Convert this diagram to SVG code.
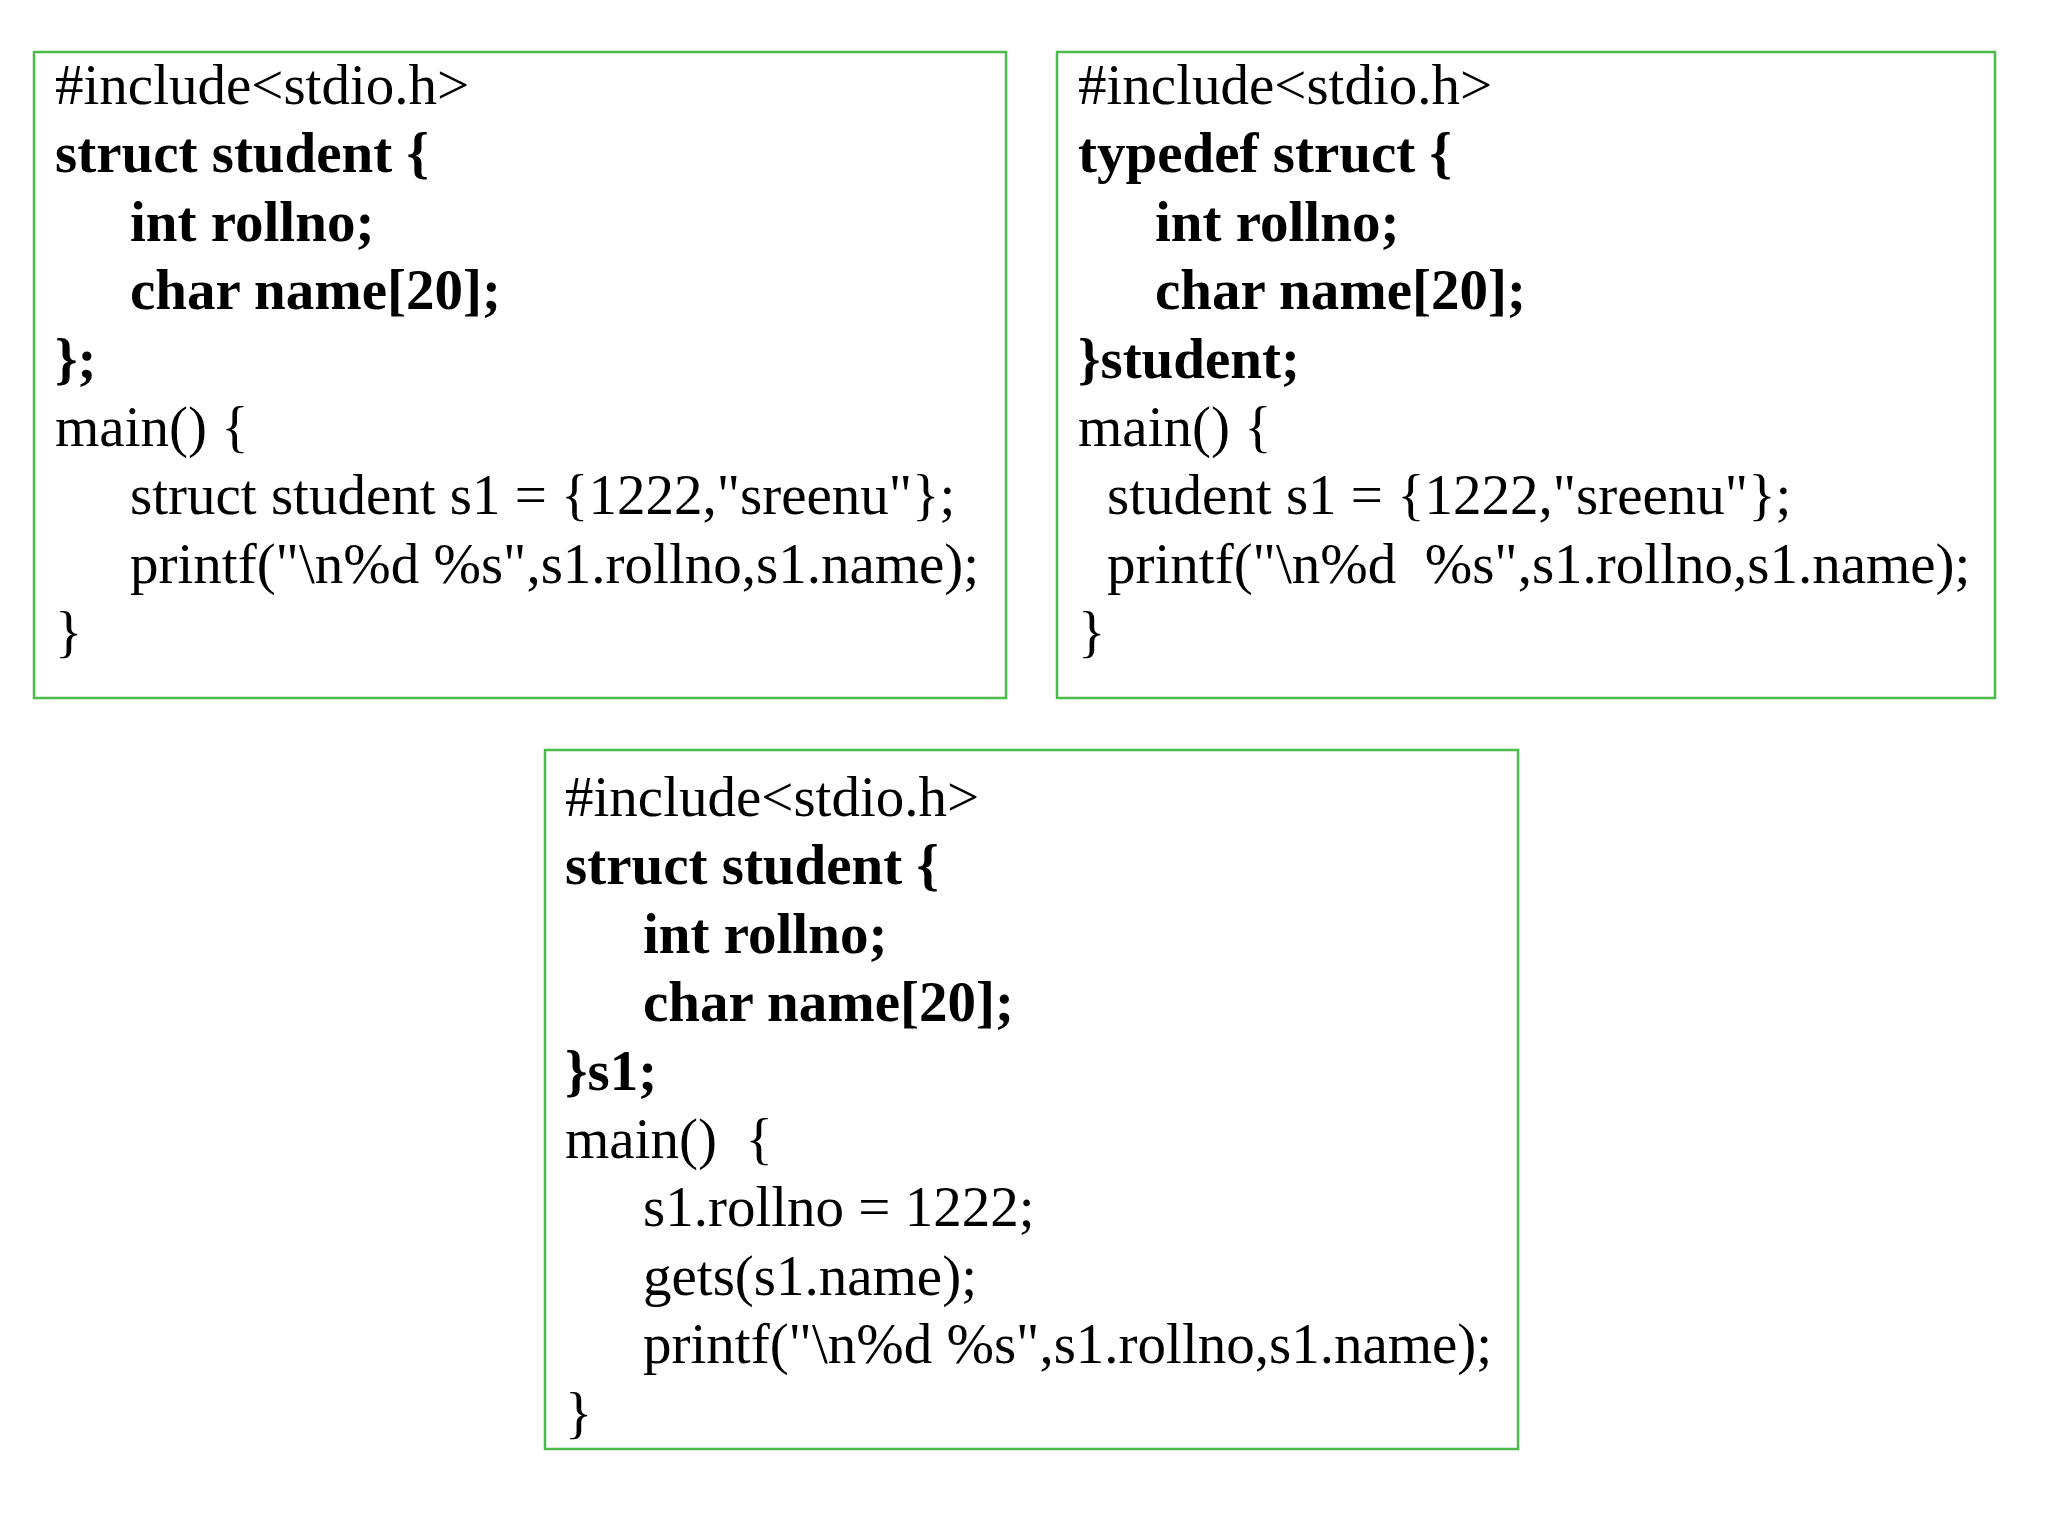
<svg xmlns="http://www.w3.org/2000/svg" width="2048" height="1536" viewBox="0 0 2048 1536">
<style>
rect{fill:#fff;stroke:#4cbb4c;stroke-width:2.5}
text{font-family:"Liberation Serif","Times New Roman",serif;font-size:57px;fill:#000;white-space:pre}
.b{font-weight:bold}
</style>
<rect x="0" y="0" width="2048" height="1536" style="stroke:none"/>
<g id="box1">
<rect x="34" y="52" width="972" height="646"/>
<text x="55" y="104">#include&lt;stdio.h&gt;</text>
<text class="b" x="55" y="172">struct student {</text>
<text class="b" x="130" y="241">int rollno;</text>
<text class="b" x="130" y="309">char name[20];</text>
<text class="b" x="55" y="378">};</text>
<text x="55" y="446">main() {</text>
<text x="130" y="514">struct student s1 = {1222,"sreenu"};</text>
<text x="130" y="583">printf("\n%d %s",s1.rollno,s1.name);</text>
<text x="55" y="651">}</text>
</g>
<g id="box2">
<rect x="1057" y="52" width="938" height="646"/>
<text x="1078" y="104">#include&lt;stdio.h&gt;</text>
<text class="b" x="1078" y="172">typedef struct {</text>
<text class="b" x="1155" y="241">int rollno;</text>
<text class="b" x="1155" y="309">char name[20];</text>
<text class="b" x="1078" y="378">}student;</text>
<text x="1078" y="446">main() {</text>
<text x="1107" y="514">student s1 = {1222,"sreenu"};</text>
<text x="1107" y="583">printf("\n%d  %s",s1.rollno,s1.name);</text>
<text x="1078" y="651">}</text>
</g>
<g id="box3">
<rect x="545" y="750" width="973" height="699"/>
<text x="565" y="816">#include&lt;stdio.h&gt;</text>
<text class="b" x="565" y="884">struct student {</text>
<text class="b" x="643" y="953">int rollno;</text>
<text class="b" x="643" y="1021">char name[20];</text>
<text class="b" x="565" y="1090">}s1;</text>
<text x="565" y="1158">main()  {</text>
<text x="643" y="1226">s1.rollno = 1222;</text>
<text x="643" y="1295">gets(s1.name);</text>
<text x="643" y="1363">printf("\n%d %s",s1.rollno,s1.name);</text>
<text x="565" y="1432">}</text>
</g>
<g id="connectors"/>
</svg>
